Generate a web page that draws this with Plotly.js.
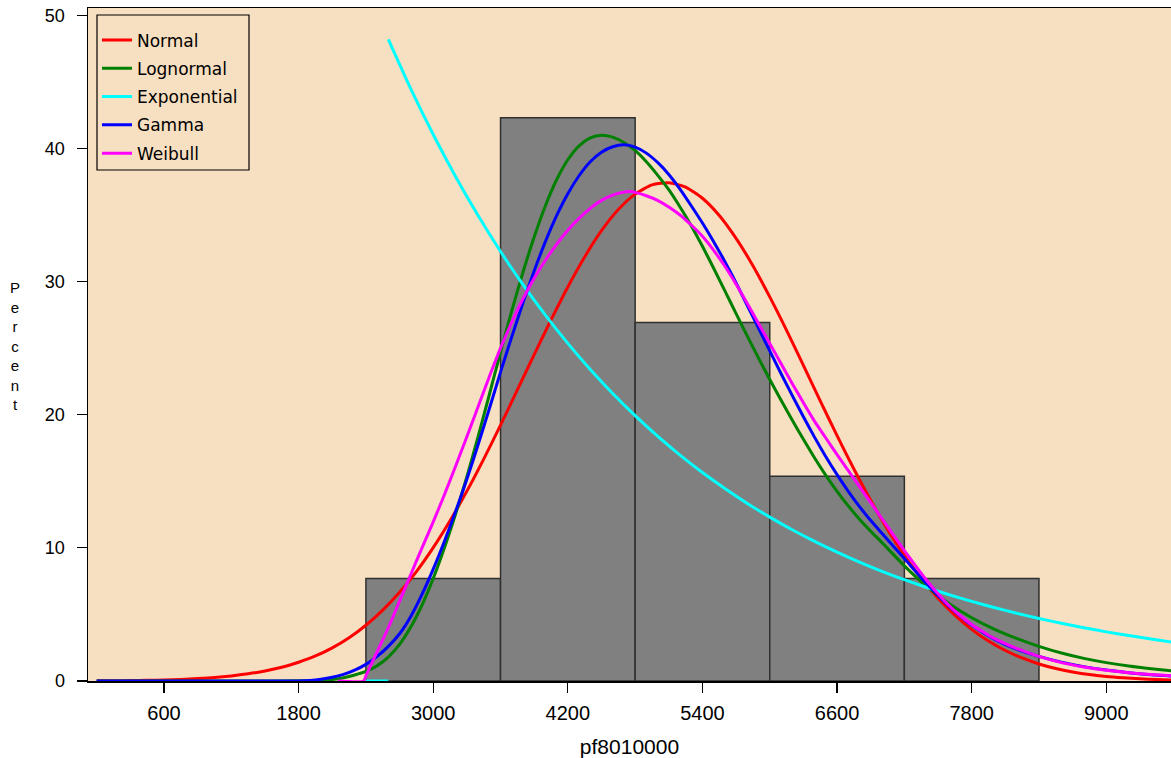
<!DOCTYPE html>
<html>
<head>
<meta charset="utf-8">
<script src="https://cdn.plot.ly/plotly-3.0.1.min.js"></script>
<style>html,body{margin:0;padding:0;background:#fff;}#chart{width:1171px;height:758px;}</style>
</head>
<body>
<div id="chart"></div>
<script>
// Histogram (percent of observations per 1200-wide bin)
const binMid = [3000, 4200, 5400, 6600, 7800];
const binPct = [7.69, 42.31, 26.92, 15.38, 7.69];
const binWidth = 1200;

// Fitted density curves (in percent)
const normalX = [0,150,300,450,600,750,900,1050,1200,1350,1500,1650,1800,1950,2100,2250,2400,2550,2700,2850,3000,3150,3300,3450,3600,3750,3900,4050,4200,4350,4500,4650,4800,4950,5100,5250,5400,5550,5700,5850,6000,6150,6300,6450,6600,6750,6900,7050,7200,7350,7500,7650,7800,7950,8100,8250,8400,8550,8700,8850,9000,9150,9300,9450,9600];
const normalY = [0.01,0.02,0.03,0.05,0.08,0.12,0.18,0.26,0.38,0.54,0.75,1.03,1.41,1.88,2.49,3.25,4.19,5.32,6.66,8.22,10.02,12.04,14.26,16.67,19.22,21.86,24.52,27.12,29.6,31.85,33.82,35.41,36.57,37.26,37.43,37.1,36.26,34.97,33.25,31.19,28.85,26.34,23.7,21.04,18.43,15.92,13.56,11.39,9.44,7.72,6.22,4.95,3.88,3.0,2.29,1.73,1.28,0.94,0.68,0.48,0.34,0.24,0.16,0.11,0.07];

const lognormX = [0,1500,1800,2000,2100,2200,2300,2400,2500,2600,2700,2800,2900,3000,3100,3200,3300,3400,3500,3600,3700,3800,3900,4000,4100,4200,4300,4400,4500,4600,4700,4800,4900,5000,5100,5200,5300,5400,5500,5600,5700,5800,5900,6000,6100,6200,6300,6400,6500,6600,6700,6800,6900,7000,7200,7400,7600,7800,8000,8200,8400,8600,8800,9000,9200,9400,9600];
const lognormY = [0,0,0.01,0.05,0.12,0.25,0.45,0.72,1.15,1.8,2.75,4.05,5.7,7.7,10.0,12.55,15.35,18.35,21.5,24.7,27.8,30.7,33.35,35.7,37.65,39.15,40.2,40.8,41.0,40.85,40.45,39.85,39.0,38.0,36.9,35.6,34.2,32.65,31.0,29.3,27.6,25.9,24.25,22.65,21.1,19.6,18.15,16.75,15.45,14.25,13.15,12.15,11.25,10.4,8.65,7.1,5.8,4.75,3.9,3.2,2.6,2.1,1.7,1.38,1.12,0.92,0.76];

const expoBaseX = [2383, 2600];
const expoBaseY = [0, 0];
const expoX = [2600,2800,3000,3200,3400,3600,3800,4000,4200,4400,4600,4800,5000,5200,5400,5600,5800,6000,6200,6400,6600,6800,7000,7200,7400,7600,7800,8000,8200,8400,8600,8800,9000,9200,9400,9600];
const expoY = [48.2,44.48,41.05,37.88,34.96,32.26,29.77,27.48,25.36,23.4,21.6,19.93,18.39,16.97,15.66,14.46,13.34,12.31,11.36,10.49,9.68,8.93,8.24,7.61,7.02,6.48,5.98,5.52,5.09,4.7,4.34,4.0,3.69,3.41,3.15,2.9];

const gammaX = [0,1800,1900,2000,2100,2200,2300,2400,2500,2600,2700,2800,2900,3000,3100,3200,3300,3400,3500,3600,3700,3800,3900,4000,4100,4200,4300,4400,4500,4600,4700,4800,4900,5000,5100,5200,5300,5400,5500,5600,5700,5800,5900,6000,6100,6200,6300,6400,6500,6600,6700,6800,6900,7000,7200,7400,7600,7800,8000,8200,8400,8600,8800,9000,9200,9400,9600];
const gammaY = [0,0,0.04,0.13,0.28,0.5,0.82,1.25,1.85,2.6,3.55,4.85,6.5,8.4,10.5,12.75,15.15,17.75,20.45,23.2,25.85,28.4,30.8,33.0,34.95,36.6,37.95,39.0,39.72,40.13,40.27,40.1,39.65,38.95,38.05,36.95,35.7,34.4,33.0,31.5,29.9,28.2,26.5,24.8,23.1,21.45,19.85,18.3,16.85,15.5,14.25,13.1,12.05,11.1,9.2,7.3,5.6,4.2,3.15,2.4,1.85,1.42,1.08,0.82,0.62,0.47,0.36];

const weibX = [2150,2380,2400,2450,2500,2550,2600,2700,2800,2900,3000,3100,3200,3300,3400,3500,3600,3700,3800,3900,4000,4100,4200,4300,4400,4500,4600,4700,4750,4800,4900,5000,5100,5200,5300,5400,5500,5600,5700,5800,5900,6000,6100,6200,6300,6400,6500,6600,6700,6800,6900,7000,7100,7200,7300,7400,7500,7600,7700,7800,7900,8000,8200,8400,8600,8800,9000,9200,9400,9600];
const weibY = [0,0,0.4,1.3,2.2,3.1,4.0,6.0,8.0,10.0,11.95,14.0,16.15,18.35,20.6,22.85,25.0,26.95,28.7,30.25,31.6,32.8,33.85,34.75,35.5,36.1,36.5,36.72,36.76,36.7,36.45,36.1,35.6,35.0,34.25,33.4,32.35,31.15,29.8,28.35,26.85,25.35,23.85,22.35,20.9,19.5,18.25,17.0,15.8,14.6,13.4,12.2,11.0,9.8,8.65,7.55,6.55,5.65,4.9,4.25,3.7,3.2,2.45,1.85,1.38,1.05,0.8,0.62,0.48,0.38];

const seriesNames = ['Normal', 'Lognormal', 'Exponential', 'Gamma', 'Weibull'];
const seriesColors = ['#ff0000', '#008000', '#00ffff', '#0000ff', '#ff00ff'];

const FONT = 'Liberation Sans, Arial, sans-serif';
const LEGFONT = 'DejaVu Sans, Liberation Sans, sans-serif';

function curve(i, x, y) {
  return {
    type: 'scatter', mode: 'lines', name: seriesNames[i], x: x, y: y,
    line: {color: seriesColors[i], width: 3, shape: 'spline', smoothing: 0.6},
    legendgroup: 'g' + i, hoverinfo: 'x+y'
  };
}

const traces = [
  {type: 'bar', x: binMid, y: binPct, width: binWidth, showlegend: false,
   marker: {color: '#808080', line: {color: '#303030', width: 1.5}}},
  curve(0, normalX, normalY),
  curve(1, lognormX, lognormY),
  curve(2, expoBaseX.concat([null], expoX), expoBaseY.concat([null], expoY)),
  curve(3, gammaX, gammaY),
  curve(4, weibX, weibY)
];

const layout = {
  width: 1171, height: 758,
  margin: {l: 88, r: 0, t: 8, b: 77, pad: 0},
  paper_bgcolor: '#ffffff', plot_bgcolor: '#f7dfc1',
  font: {family: FONT, color: '#000'},
  bargap: 0,
  showlegend: true,
  legend: {x: 0.0083, y: 0.9786, xanchor: 'left', yanchor: 'top',
           bgcolor: 'rgba(0,0,0,0)', borderwidth: 0,
           font: {family: LEGFONT, size: 17, color: '#000'}, tracegroupgap: 3.2, itemwidth: 30},
  shapes: [{type: 'rect', xref: 'paper', yref: 'paper', x0: 0.00831, x1: 0.14866, y0: 0.7593, y1: 0.9896,
            line: {color: '#000', width: 1.2}, fillcolor: 'rgba(0,0,0,0)', layer: 'above'}],
  xaxis: {range: [-77.5, 9577], tickvals: [600,1800,3000,4200,5400,6600,7800,9000],
          ticks: 'outside', ticklen: 10, tickwidth: 1.2, tickcolor: '#000',
          showline: true, linecolor: '#000', linewidth: 1.5, mirror: true,
          showgrid: false, zeroline: false, tickfont: {family: FONT, size: 20},
          ticklabelstandoff: 3,
          title: {text: 'pf8010000', font: {family: FONT, size: 21}, standoff: 18}},
  yaxis: {range: [0, 50.55], tickvals: [0,10,20,30,40,50],
          ticks: 'outside', ticklen: 10, tickwidth: 1.2, tickcolor: '#000',
          showline: true, linecolor: '#000', linewidth: 1.5, mirror: false,
          showgrid: false, zeroline: false, tickfont: {family: FONT, size: 18},
          ticklabelstandoff: 8},
  annotations: [{text: 'P<br>e<br>r<br>c<br>e<br>n<br>t', xref: 'paper', yref: 'paper',
                 x: -0.0674, y: 0.4978, xanchor: 'center', yanchor: 'middle', showarrow: false,
                 font: {family: FONT, size: 15, color: '#000'}}]
};

Plotly.newPlot('chart', traces, layout, {displayModeBar: false, staticPlot: true});
</script>
</body>
</html>
